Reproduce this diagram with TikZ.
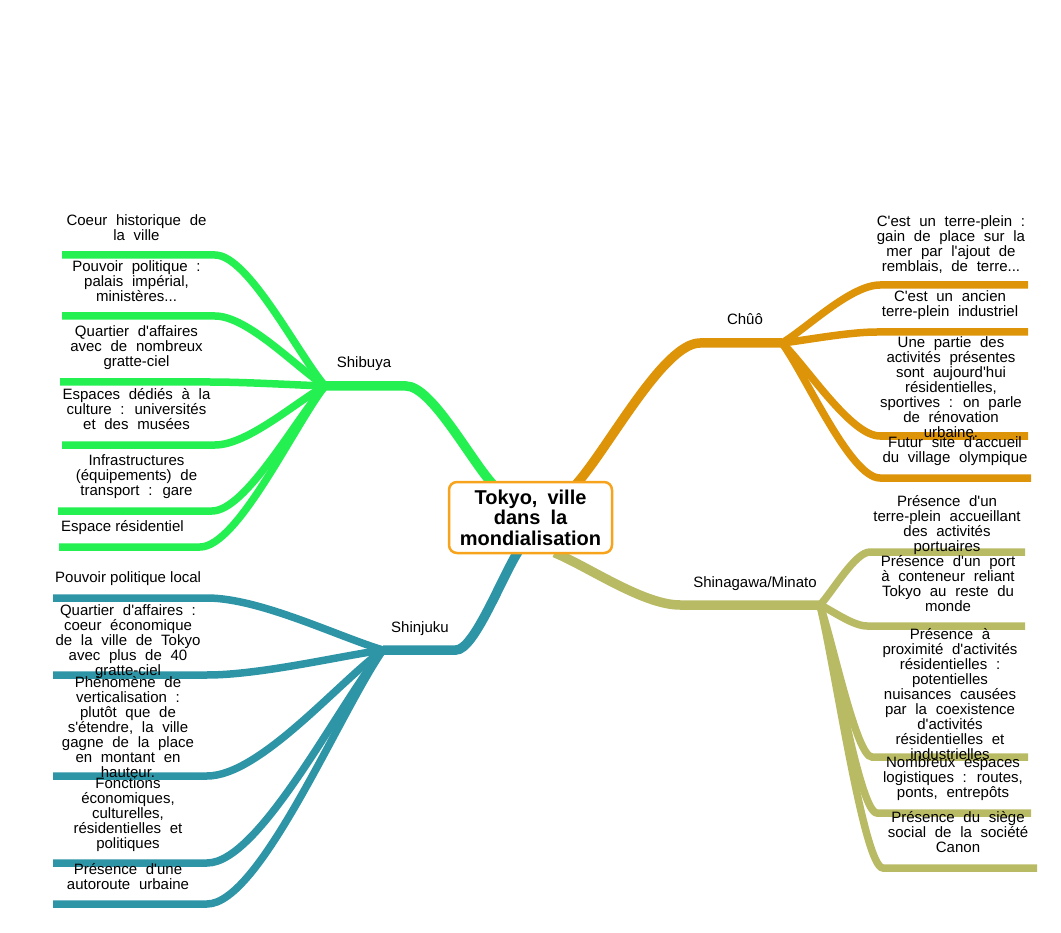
\documentclass[tikz,border=0pt]{standalone}
\usepackage{fontspec}
\setmainfont{Liberation Sans}[Ligatures=TeXOff]
\usetikzlibrary{calc,backgrounds}

\definecolor{shibgreen}{RGB}{36,240,82}
\definecolor{shinteal}{RGB}{46,149,166}
\definecolor{chuoorange}{RGB}{221,148,9}
\definecolor{minaolive}{RGB}{185,187,100}
\definecolor{rootorange}{RGB}{247,164,28}

\newcommand{\leaffont}{\fontsize{15}{15}\selectfont\spaceskip=0.58em\relax}
\newcommand{\rootfont}{\fontsize{20}{20.5}\selectfont\bfseries\spaceskip=0.5em\relax}

\begin{document}
\begin{tikzpicture}[
  x=1pt, y=-1pt,
  root/.style={draw=rootorange, line width=2.5pt, rounded corners=8pt,
    fill=white, minimum width=163pt, minimum height=71pt, inner sep=0pt,
    align=center, font=\rootfont},
  limb/.style={to path={.. controls ($(\tikztostart)!0.25!(\tikztotarget)$)
    and ($(\tikztostart|-\tikztotarget)!0.7!(\tikztotarget)$)
    .. (\tikztotarget) \tikztonodes}},
  trunk/.style={line width=9.5pt, shorten <=-4pt},
  twig/.style={line width=7.5pt},
  area/.style={font=\fontsize{15}{15}\selectfont, inner sep=0pt, anchor=base},
  leaf/.style={font=\leaffont, inner sep=0pt, align=center, anchor=north},
]
\useasboundingbox (0,0) rectangle (1061,933);

\node[root] (tokyo) at (530.5,517.5) {Tokyo, ville\\dans la\\mondialisation};

% hubs and knees
\coordinate (shib) at (325,386);
\coordinate (shibk) at (406,386);
\coordinate (shin) at (383,650);
\coordinate (shink) at (456,650);
\coordinate (chuo) at (782,343);
\coordinate (chuok) at (700,343);
\coordinate (mina) at (820,605);
\coordinate (minak) at (680,605);

% line ends
\coordinate (shib1) at (215,255); \coordinate (shib1end) at (62,255);
\coordinate (shib2) at (215,316); \coordinate (shib2end) at (62,316);
\coordinate (shib3) at (210,382); \coordinate (shib3end) at (60,382);
\coordinate (shib4) at (215,445); \coordinate (shib4end) at (62,445);
\coordinate (shib5) at (212,511); \coordinate (shib5end) at (58,511);
\coordinate (shib6) at (200,547); \coordinate (shib6end) at (59,547);
\coordinate (shin1) at (207,598); \coordinate (shin1end) at (53,598);
\coordinate (shin2) at (207,675); \coordinate (shin2end) at (53,675);
\coordinate (shin3) at (207,776); \coordinate (shin3end) at (53,776);
\coordinate (shin4) at (207,863); \coordinate (shin4end) at (53,863);
\coordinate (shin5) at (207,904); \coordinate (shin5end) at (53,904);
\coordinate (chuo1) at (880,285); \coordinate (chuo1end) at (1028,285);
\coordinate (chuo2) at (877,332); \coordinate (chuo2end) at (1028,332);
\coordinate (chuo3) at (880,436); \coordinate (chuo3end) at (1028,436);
\coordinate (chuo4) at (880,478); \coordinate (chuo4end) at (1031,478);
\coordinate (mina1) at (870,552); \coordinate (mina1end) at (1025,552);
\coordinate (mina2) at (867,626); \coordinate (mina2end) at (1025,626);
\coordinate (mina3) at (872,757); \coordinate (mina3end) at (1028,757);
\coordinate (mina4) at (877,813); \coordinate (mina4end) at (1031,813);
\coordinate (mina5) at (883,868); \coordinate (mina5end) at (1037,868);

\begin{scope}[on background layer]
\draw[trunk, shibgreen] (tokyo.138) to[limb] (shibk) -- (shib);
\draw[trunk, shinteal] (tokyo.249) to[limb] (shink) -- (shin);
\draw[trunk, chuoorange] (tokyo.37) to[limb] (chuok) -- (chuo);
\draw[trunk, minaolive] (tokyo.307) to[limb] (minak) -- (mina);

\draw[twig, shibgreen] (shib) to[limb] (shib1) -- (shib1end);
\draw[twig, shibgreen] (shib) to[limb] (shib2) -- (shib2end);
\draw[twig, shibgreen] (shib) to[limb] (shib3) -- (shib3end);
\draw[twig, shibgreen] (shib) to[limb] (shib4) -- (shib4end);
\draw[twig, shibgreen] (shib) to[limb] (shib5) -- (shib5end);
\draw[twig, shibgreen] (shib) to[limb] (shib6) -- (shib6end);

\draw[twig, shinteal] (shin) to[limb] (shin1) -- (shin1end);
\draw[twig, shinteal] (shin) to[limb] (shin2) -- (shin2end);
\draw[twig, shinteal] (shin) to[limb] (shin3) -- (shin3end);
\draw[twig, shinteal] (shin) to[limb] (shin4) -- (shin4end);
\draw[twig, shinteal] (shin) to[limb] (shin5) -- (shin5end);

\draw[twig, chuoorange] (chuo) to[limb] (chuo1) -- (chuo1end);
\draw[twig, chuoorange] (chuo) to[limb] (chuo2) -- (chuo2end);
\draw[twig, chuoorange] (chuo) to[limb] (chuo3) -- (chuo3end);
\draw[twig, chuoorange] (chuo) to[limb] (chuo4) -- (chuo4end);

\draw[twig, minaolive] (mina) to[limb] (mina1) -- (mina1end);
\draw[twig, minaolive] (mina) to[limb] (mina2) -- (mina2end);
\draw[twig, minaolive] (mina) to[limb] (mina3) -- (mina3end);
\draw[twig, minaolive] (mina) to[limb] (mina4) -- (mina4end);
\draw[twig, minaolive] (mina) to[limb] (mina5) -- (mina5end);
\end{scope}

% branch names
\node[area] (shiblabel) at (364,368) {Shibuya};
\node[area] (shinlabel) at (420,632) {Shinjuku};
\node[area] (chuolabel) at (745,325) {Chûô};
\node[area] (minalabel) at (755,587) {Shinagawa/Minato};

% Shibuya
\node[leaf] (shibtext1) at (136.5,214) {Coeur historique de\\la ville};
\node[leaf] (shibtext2) at (136.5,260) {Pouvoir politique :\\palais impérial,\\ministères...};
\node[leaf] (shibtext3) at (136.5,325) {Quartier d'affaires\\avec de nombreux\\gratte-ciel};
\node[leaf] (shibtext4) at (136.5,388) {Espaces dédiés à la\\culture : universités\\et des musées};
\node[leaf] (shibtext5) at (136.5,454) {Infrastructures\\(équipements) de\\transport : gare};
\node[area, anchor=base west] (shibtext6) at (61,531) {Espace résidentiel};

% Shinjuku
\node[area, anchor=base west] (shintext1) at (55,582) {Pouvoir politique local};
\node[leaf] (shintext2) at (128,604) {Quartier d'affaires :\\coeur économique\\de la ville de Tokyo\\avec plus de 40\\gratte-ciel};
\node[leaf] (shintext3) at (128,676) {Phénomène de\\verticalisation :\\plutôt que de\\s'étendre, la ville\\gagne de la place\\en montant en\\hauteur.};
\node[leaf] (shintext4) at (128,777) {Fonctions\\économiques,\\culturelles,\\résidentielles et\\politiques};
\node[leaf] (shintext5) at (128,863) {Présence d'une\\autoroute urbaine};

% Chuo
\node[leaf] (chuotext1) at (951,215) {C'est un terre-plein :\\gain de place sur la\\mer par l'ajout de\\remblais, de terre...};
\node[leaf] (chuotext2) at (950,290) {C'est un ancien\\terre-plein industriel};
\node[leaf] (chuotext3) at (951,336) {Une partie des\\activités présentes\\sont aujourd'hui\\résidentielles,\\sportives : on parle\\de rénovation\\urbaine.};
\node[leaf] (chuotext4) at (955,436) {Futur site d'accueil\\du village olympique};

% Shinagawa/Minato
\node[leaf] (minatext1) at (947,495) {Présence d'un\\terre-plein accueillant\\des activités\\portuaires};
\node[leaf] (minatext2) at (948,555) {Présence d'un port\\à conteneur reliant\\Tokyo au reste du\\monde};
\node[leaf] (minatext3) at (950,628) {Présence à\\proximité d'activités\\résidentielles :\\potentielles\\nuisances causées\\par la coexistence\\d'activités\\résidentielles et\\industrielles};
\node[leaf] (minatext4) at (953,756) {Nombreux espaces\\logistiques : routes,\\ponts, entrepôts};
\node[leaf] (minatext5) at (958,811) {Présence du siège\\social de la société\\Canon};
\end{tikzpicture}
\end{document}
